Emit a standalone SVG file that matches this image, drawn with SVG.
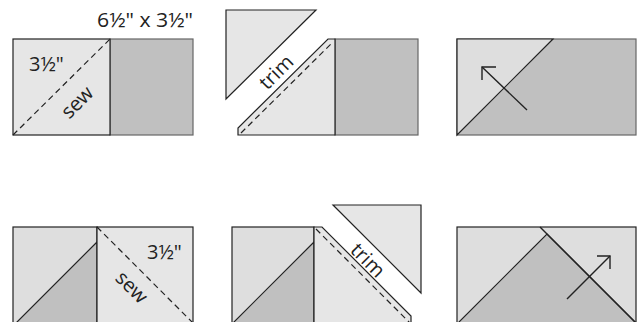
<svg xmlns="http://www.w3.org/2000/svg" width="644" height="322" viewBox="0 0 644 322">
<style>
.lt{fill:#e6e6e6;stroke:#222;stroke-width:1.2}
.lt2{fill:#dedede;stroke:#222;stroke-width:1.2}
.dk{fill:#c0c0c0;stroke:#666;stroke-width:1.2}
.dk2{fill:#c0c0c0;stroke:#222;stroke-width:1.2}
.ln{stroke:#222;stroke-width:1.4;fill:none}
.dash{stroke:#222;stroke-width:1.2;stroke-dasharray:6 4;fill:none}
.t{font-family:"Open Sans","Noto Sans",sans-serif;font-size:20px;fill:#222}
</style>
<rect width="644" height="322" fill="#fff"/>
<g id="p1-right"><rect class="dk" x="110" y="39" width="83" height="96"/></g>
<g id="p1-square"><rect class="lt" x="13" y="39" width="97" height="96"/>
<line class="dash" x1="13" y1="135" x2="110" y2="39"/>
<text class="t" x="29" y="71">3½"</text>
<text class="t" text-anchor="middle" transform="translate(82,107) rotate(-45)">sew</text></g>
<g id="p1-label"><text class="t" x="97" y="27" textLength="96" lengthAdjust="spacingAndGlyphs">6½" x 3½"</text></g>

<g id="p2-trim"><polygon class="lt" points="226,10 316,10 226,99"/>
<text class="t" text-anchor="middle" transform="translate(281,77) rotate(-45)">trim</text></g>
<g id="p2-right"><rect class="dk" x="335" y="39" width="83" height="96"/></g>
<g id="p2-left"><polygon class="lt" points="238,135 238,128 328,39 335,39 335,135"/>
<line class="dash" x1="241" y1="133" x2="333" y2="42"/></g>

<g id="p3"><rect class="dk" x="457" y="39" width="179" height="96"/>
<polygon class="lt2" points="457,39 553,39 457,135"/></g>

<g id="p4-left"><rect class="lt2" x="13" y="227" width="84" height="96"/>
<polygon class="dk2" points="97,242 97,323 16,323"/></g>
<g id="p4-right"><rect class="lt" x="97" y="227" width="96" height="96"/>
<line class="dash" x1="97" y1="227" x2="193" y2="323"/>
<text class="t" x="147" y="259">3½"</text>
<text class="t" text-anchor="middle" transform="translate(127,292) rotate(45)">sew</text></g>

<g id="p5-left"><rect class="lt2" x="232" y="227" width="82" height="96"/>
<polygon class="dk2" points="314,242 314,323 233,323"/></g>
<g id="p5-right"><polygon class="lt" points="314,227 322,227 411,316 411,323 314,323"/>
<line class="dash" x1="316" y1="229" x2="410" y2="323"/></g>
<g id="p5-trim"><polygon class="lt" points="333,205 421,205 421,293"/>
<text class="t" text-anchor="middle" transform="translate(363,265) rotate(45)">trim</text></g>

<g id="p6"><rect class="lt2" x="457" y="227" width="179" height="96"/>
<polygon class="dk2" points="458,323 547,234 636,323"/>
<line class="ln" x1="540" y1="227" x2="636" y2="323"/></g>

<g id="connectors">
<line class="ln" x1="527" y1="110" x2="482" y2="67"/>
<polyline class="ln" points="496,67 482,67 482,80"/>
<line class="ln" x1="567" y1="299" x2="610" y2="256"/>
<polyline class="ln" points="597,256 610,256 610,269"/>
</g>
</svg>
